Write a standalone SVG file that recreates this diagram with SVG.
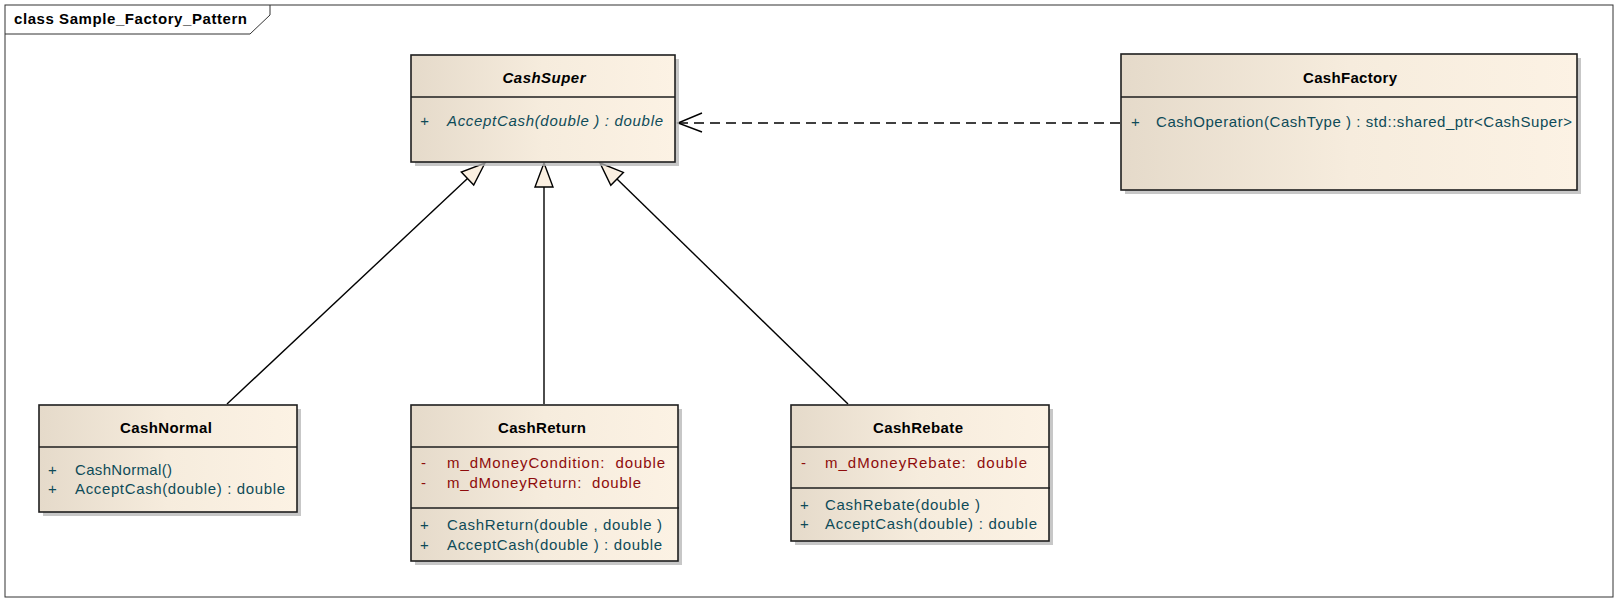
<svg xmlns="http://www.w3.org/2000/svg" width="1619" height="603" viewBox="0 0 1619 603">
<defs>
<linearGradient id="fill" x1="0" y1="0" x2="1" y2="0">
<stop offset="0" stop-color="#E5DACA"/>
<stop offset="0.5" stop-color="#F6ECDD"/>
<stop offset="1" stop-color="#FCF2E4"/>
</linearGradient>
<style>
.box{fill:url(#fill);stroke:#1E1E1E;stroke-width:1.6}
.shadow{fill:#B4B4B4;opacity:0.75}
.sep{stroke:#1E1E1E;stroke-width:1.6}
.t{font-family:"Liberation Sans",Arial,sans-serif;font-size:15px;white-space:pre}
.name{font-weight:bold;fill:#000;text-anchor:middle}
.op{fill:#0E4B58}
.attr{fill:#8E0C0C}
.abs{font-style:italic}
.edge{stroke:#000;stroke-width:1.4;fill:none}
.tri{fill:#FBF0E1;stroke:#000;stroke-width:1.4;stroke-linejoin:miter}
.dash{stroke:#000;stroke-width:1.4;fill:none;stroke-dasharray:10 6}
</style>
</defs>
<rect x="0" y="0" width="1619" height="603" fill="#fff"/>
<g id="frame">
<rect x="5" y="5" width="1608" height="592" fill="none" stroke="#333" stroke-width="1"/>
<path d="M5,34 H250 L270,15 V5" fill="none" stroke="#333" stroke-width="1"/>
<text class="t" x="14" y="24" font-weight="bold" fill="#000" textLength="233" lengthAdjust="spacing">class Sample_Factory_Pattern</text>
</g>
<g id="connectors">
<path class="edge" d="M227,404 L467.5,178.5"/>
<polygon class="tri" points="485,163 473.7,185 461.3,172"/>
<path class="edge" d="M544,404 L544,187"/>
<polygon class="tri" points="544,163 553,187 535,187"/>
<path class="edge" d="M848,404 L617,179"/>
<polygon class="tri" points="600,163 623.4,172.4 610.8,185.2"/>
<path class="dash" d="M1120,123 L679,123"/>
<path class="edge" d="M702,113 L678,123 L702,132"/>
</g>
<g id="CashSuper">
<rect class="shadow" x="415" y="59" width="264" height="107"/>
<rect class="box" x="411" y="55" width="264" height="107"/>
<line class="sep" x1="411" y1="97" x2="675" y2="97"/>
<text class="t name abs" x="544" y="83" textLength="83" lengthAdjust="spacing">CashSuper</text>
<text class="t op abs" x="420" y="126">+</text>
<text class="t op abs" x="447" y="126" textLength="216" lengthAdjust="spacing">AcceptCash(double ) : double</text>
</g>
<g id="CashFactory">
<rect class="shadow" x="1125" y="58" width="456" height="136"/>
<rect class="box" x="1121" y="54" width="456" height="136"/>
<line class="sep" x1="1121" y1="97" x2="1577" y2="97"/>
<text class="t name" x="1350" y="83" textLength="94" lengthAdjust="spacing">CashFactory</text>
<text class="t op" x="1131" y="127">+</text>
<text class="t op" x="1156" y="127" textLength="416" lengthAdjust="spacing">CashOperation(CashType ) : std::shared_ptr&lt;CashSuper&gt;</text>
</g>
<g id="CashNormal">
<rect class="shadow" x="43" y="409" width="258" height="107"/>
<rect class="box" x="39" y="405" width="258" height="107"/>
<line class="sep" x1="39" y1="447" x2="297" y2="447"/>
<text class="t name" x="166" y="433" textLength="92" lengthAdjust="spacing">CashNormal</text>
<text class="t op" x="48" y="475">+</text>
<text class="t op" x="75" y="475" textLength="97" lengthAdjust="spacing">CashNormal()</text>
<text class="t op" x="48" y="494">+</text>
<text class="t op" x="75" y="494" textLength="210" lengthAdjust="spacing">AcceptCash(double) : double</text>
</g>
<g id="CashReturn">
<rect class="shadow" x="415" y="409" width="267" height="156"/>
<rect class="box" x="411" y="405" width="267" height="156"/>
<line class="sep" x1="411" y1="447" x2="678" y2="447"/>
<line class="sep" x1="411" y1="508" x2="679" y2="508"/>
<text class="t name" x="542" y="433" textLength="88" lengthAdjust="spacing">CashReturn</text>
<text class="t attr" x="421" y="468">-</text>
<text class="t attr" x="447" y="468" textLength="218" lengthAdjust="spacing" xml:space="preserve">m_dMoneyCondition:  double</text>
<text class="t attr" x="421" y="488">-</text>
<text class="t attr" x="447" y="488" textLength="194" lengthAdjust="spacing" xml:space="preserve">m_dMoneyReturn:  double</text>
<text class="t op" x="420" y="530">+</text>
<text class="t op" x="447" y="530" textLength="215" lengthAdjust="spacing">CashReturn(double , double )</text>
<text class="t op" x="420" y="550">+</text>
<text class="t op" x="447" y="550" textLength="215" lengthAdjust="spacing">AcceptCash(double ) : double</text>
</g>
<g id="CashRebate">
<rect class="shadow" x="795" y="409" width="258" height="136"/>
<rect class="box" x="791" y="405" width="258" height="136"/>
<line class="sep" x1="791" y1="447" x2="1049" y2="447"/>
<line class="sep" x1="791" y1="488" x2="1050" y2="488"/>
<text class="t name" x="918" y="433" textLength="90" lengthAdjust="spacing">CashRebate</text>
<text class="t attr" x="801" y="468">-</text>
<text class="t attr" x="825" y="468" textLength="202" lengthAdjust="spacing" xml:space="preserve">m_dMoneyRebate:  double</text>
<text class="t op" x="800" y="510">+</text>
<text class="t op" x="825" y="510" textLength="155" lengthAdjust="spacing">CashRebate(double )</text>
<text class="t op" x="800" y="529">+</text>
<text class="t op" x="825" y="529" textLength="212" lengthAdjust="spacing">AcceptCash(double) : double</text>
</g>
</svg>
